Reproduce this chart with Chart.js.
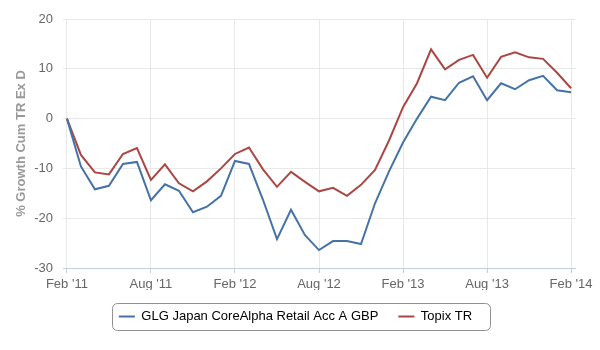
<!DOCTYPE html>
<html>
<head>
<meta charset="utf-8">
<script src="https://cdn.jsdelivr.net/npm/chart.js@4"></script>
<style>
  html, body { margin: 0; padding: 0; background: #fff; }
  #wrap { width: 600px; height: 350px; }
</style>
</head>
<body>
<div id="wrap"><canvas id="chart"></canvas></div>
<script>
// monthly points, Feb '11 .. Feb '14
const tickLabels = ["Feb '11", "Aug '11", "Feb '12", "Aug '12", "Feb '13", "Aug '13", "Feb '14"];
const glgValues = [0, -9.6, -14.2, -13.5, -9.1, -8.7, -16.4, -13.2, -14.5, -18.8, -17.7, -15.5,
  -8.5, -9.1, -16.3, -24.2, -18.3, -23.4, -26.4, -24.6, -24.6, -25.2, -17.0, -10.6,
  -4.8, 0, 4.4, 3.7, 7.2, 8.5, 3.7, 7.1, 5.9, 7.7, 8.6, 5.7, 5.3];
const topixValues = [0, -7.3, -10.8, -11.2, -7.1, -5.9, -12.3, -9.2, -13.0, -14.6, -12.6, -10.0,
  -7.1, -5.8, -10.2, -13.7, -10.7, -12.7, -14.6, -13.9, -15.5, -13.3, -10.3, -4.4,
  2.3, 7.1, 13.9, 9.9, 11.8, 12.8, 8.2, 12.4, 13.3, 12.3, 12.0, 9.2, 6.1];
const seriesNames = ['GLG Japan CoreAlpha Retail Acc A GBP', 'Topix TR'];
const seriesColors = ['#4572A7', '#AA4643'];

const toPoints = arr => arr.map((v, i) => ({ x: i, y: v }));

// rounded border round the legend items, legend nudged a bit to the right
const legendBox = {
  id: 'legendBox',
  afterLayout(chart) {
    chart.legend.left += 8;
    chart.legend.right += 8;
  },
  afterDraw(chart) {
    const boxes = chart.legend.legendHitBoxes;
    if (!boxes || !boxes.length) return;
    const left = Math.min(...boxes.map(b => b.left)) - 7;
    const right = Math.max(...boxes.map(b => b.left + b.width)) + 18;
    const top = Math.min(...boxes.map(b => b.top)) - 7;
    const bottom = Math.max(...boxes.map(b => b.top + b.height)) + 7;
    const ctx = chart.ctx;
    ctx.save();
    ctx.strokeStyle = '#909090';
    ctx.lineWidth = 1;
    ctx.beginPath();
    ctx.roundRect(Math.round(left) + 0.5, Math.round(top) + 0.5, Math.round(right - left), Math.round(bottom - top), 5);
    ctx.stroke();
    ctx.restore();
  }
};

Chart.defaults.font.family = "'Liberation Sans', Arial, sans-serif";
Chart.defaults.font.size = 13;

new Chart(document.getElementById('chart'), {
  type: 'line',
  data: {
    datasets: [
      { label: seriesNames[0], data: toPoints(glgValues), borderColor: seriesColors[0], backgroundColor: seriesColors[0], borderWidth: 2, pointRadius: 0, tension: 0 },
      { label: seriesNames[1], data: toPoints(topixValues), borderColor: seriesColors[1], backgroundColor: seriesColors[1], borderWidth: 2, pointRadius: 0, tension: 0 }
    ]
  },
  options: {
    responsive: true,
    maintainAspectRatio: false,
    animation: false,
    layout: { padding: { top: 19, right: 25, bottom: 17, left: 0 } },
    plugins: {
      tooltip: { enabled: false },
      legend: {
        position: 'bottom',
        labels: {
          color: '#333',
          boxWidth: 16,
          boxHeight: 2,
          padding: 20,
          font: { size: 13 },
          generateLabels(chart) {
            return chart.data.datasets.map((ds, i) => ({
              text: ds.label,
              fillStyle: ds.borderColor,
              strokeStyle: ds.borderColor,
              lineWidth: 0,
              datasetIndex: i
            }));
          }
        }
      }
    },
    scales: {
      x: {
        type: 'linear',
        min: -0.28,
        max: 36.28,
        afterBuildTicks(scale) {
          scale.ticks = tickLabels.map((t, i) => ({ value: i * 6 }));
        },
        afterFit(scale) { scale.height = 22; },
        ticks: {
          color: '#666',
          padding: 4,
          maxRotation: 0,
          callback: (v) => tickLabels[v / 6]
        },
        grid: { color: '#e8e8e8', tickColor: '#C0D0E0', tickLength: 5 },
        border: { color: '#C0D0E0', width: 1 }
      },
      y: {
        min: -30,
        max: 20,
        ticks: { stepSize: 10, color: '#666', padding: 10 },
        grid: { color: '#e8e8e8', drawTicks: false },
        border: { display: false },
        afterFit(scale) { scale.width = 63; },
        title: {
          display: true,
          text: '% Growth Cum TR Ex D',
          color: '#999',
          font: { size: 13, weight: 'bold' },
          padding: { top: 14, bottom: 0 }
        }
      }
    }
  },
  plugins: [legendBox]
});
</script>
</body>
</html>
